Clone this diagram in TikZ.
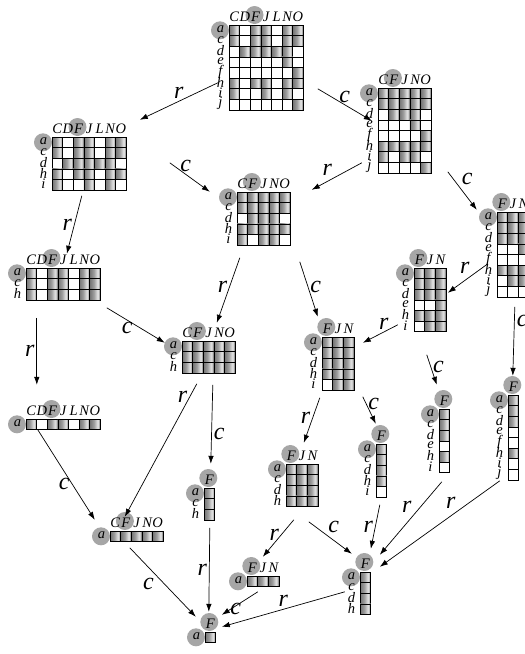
\documentclass[tikz,border=0pt]{standalone}
\usepackage{fontspec}
\setmainfont{Liberation Serif}
\usetikzlibrary{arrows.meta, calc, fit, positioning}

\pgfdeclarehorizontalshading{pipe}{100bp}{
  color(0bp)=(black!55); color(25bp)=(black!55); color(45bp)=(black!38);
  color(64bp)=(black!8); color(75bp)=(black!60); color(100bp)=(black!60)}

\def\cell{10.6}

% incidences of the context
\newcommand{\relate}[2]{\foreach \A in {#2}{\expandafter\gdef\csname ctx@#1@\A\endcsname{}}}
\relate{a}{C,F,J,N,O}
\relate{c}{C,F,J,N,O}
\relate{d}{D,F,J,L,N}
\relate{e}{N}
\relate{f}{O}
\relate{h}{C,F,J,N,O}
\relate{i}{C,J,N}
\relate{j}{O}
% highlighted object and attribute
\expandafter\def\csname mark@a\endcsname{}
\expandafter\def\csname mark@F\endcsname{}

\tikzset{
	cellon/.style={shading=pipe, draw=black, line width=0.6pt},
	celloff/.style={fill=white, draw=black, line width=0.6pt},
	halo/.style={fill=black!35},
	attr/.style={font=\fontsize{14.5}{14}\selectfont\itshape, inner sep=0pt},
	obj/.style={font=\fontsize{14.5}{14}\selectfont\itshape, inner sep=0pt},
	block/.style={inner sep=0pt, draw=none},
	link/.style={-{Latex[length=8pt,width=5.5pt]}, line width=0.7pt},
	tag/.style={font=\fontsize{24}{24}\selectfont\itshape, inner sep=2pt}
}

% #1 name, #2 top left corner, #3 attributes, #4 objects
\newcommand{\conceptgrid}[4]{%
  \coordinate (#1-tl) at (#2);
  % halos first, so that no label is hidden
  \foreach \A [count=\j] in {#3} {
    \ifcsname mark@\A\endcsname
      \fill[halo] ($(#1-tl)+(\j*\cell-0.5*\cell-1,-10)$) circle[radius=9];
    \fi
    \xdef\ncols{\j}
  }
  \fill[halo] ($(#1-tl)+(-9,0.5*\cell)$) circle[radius=9];
  \foreach \A [count=\j] in {#3}
    \node[attr] at ($(#1-tl)+(\j*\cell-0.5*\cell,-8.5)$) {\A};
  \foreach \o [count=\i] in {#4} {
    \node[obj] at ($(#1-tl)+(-8.5,\i*\cell-0.5*\cell-1)$) {\o};
    \foreach \A [count=\j] in {#3} {
      \ifcsname ctx@\o@\A\endcsname
        \shadedraw[cellon] ($(#1-tl)+(\j*\cell-\cell,\i*\cell-\cell)$) rectangle +(\cell,\cell);
      \else
        \filldraw[celloff] ($(#1-tl)+(\j*\cell-\cell,\i*\cell-\cell)$) rectangle +(\cell,\cell);
      \fi
    }
    \xdef\nrows{\i}
  }
  \coordinate (#1-br) at ($(#1-tl)+(\ncols*\cell,\nrows*\cell)$);
  \node[block, fit=(#1-tl)(#1-br)] (#1) {};
}

\begin{document}
\begin{tikzpicture}[x=1pt, y=-1pt]
\clip (0,0) rectangle (525,654);

\conceptgrid{n1}{229,25}{C,D,F,J,L,N,O}{a,c,d,e,f,h,i,j}
\conceptgrid{n2}{52,137}{C,D,F,J,L,N,O}{a,c,d,h,i}
\conceptgrid{n3}{378,88}{C,F,J,N,O}{a,c,d,e,f,h,i,j}
\conceptgrid{n4}{237,192}{C,F,J,N,O}{a,c,d,h,i}
\conceptgrid{n5}{497,212}{F,J,N}{a,c,d,e,f,h,i,j}
\conceptgrid{n6}{26,268}{C,D,F,J,L,N,O}{a,c,h}
\conceptgrid{n7}{414,268}{F,J,N}{a,c,d,e,h,i}
\conceptgrid{n8}{322,337}{F,J,N}{a,c,d,h,i}
\conceptgrid{n9}{182,341}{C,F,J,N,O}{a,c,h}
\conceptgrid{n10}{26,419}{C,D,F,J,L,N,O}{a}
\conceptgrid{n11}{508,395}{F}{a,c,d,e,f,h,i,j}
\conceptgrid{n12}{439,409}{F}{a,c,d,e,h,i}
\conceptgrid{n13}{376,444}{F}{a,c,d,h,i}
\conceptgrid{n14}{286,464}{F,J,N}{a,c,d,h}
\conceptgrid{n15}{204,488}{F}{a,c,h}
\conceptgrid{n16}{110,531}{C,F,J,N,O}{a}
\conceptgrid{n17}{247,576}{F,J,N}{a}
\conceptgrid{n18}{360,572}{F}{a,c,d,h}
\conceptgrid{n19}{205,632}{F}{a}

\draw[link] ([shift={(-11,58)}]n1.north west) -- node[tag, above]{r} ([shift={(88,-17)}]n2.north west);
\draw[link] ([shift={(89,64)}]n1.north west) -- node[tag, above]{c} ([shift={(-6,33)}]n3.north west);
\draw[link] ([shift={(118,26)}]n2.north west) -- node[tag, pos=0.4, above]{c} ([shift={(-27,0)}]n4.north west);
\draw[link] ([shift={(-16,75)}]n3.north west) -- node[tag, pos=0.55, above left]{r} ([shift={(75,-2)}]n4.north west);
\draw[link] ([shift={(70,84)}]n3.north west) -- node[tag, pos=0.4, above right]{c} ([shift={(-20,-2)}]n5.north west);
\draw[link] ([shift={(30,59)}]n2.north west) -- node[tag, left]{r} ([shift={(41,-14)}]n6.north west);
\draw[link] ([shift={(3,66)}]n4.north west) -- node[tag, pos=0.45, left]{r} ([shift={(35,-18)}]n9.north west);
\draw[link] ([shift={(63,70)}]n4.north west) -- node[tag, pos=0.45, right]{c} ([shift={(-4,-20)}]n8.north west);
\draw[link] ([shift={(-9,52)}]n5.north west) -- node[tag, pos=0.4, above left]{r} ([shift={(34,25)}]n7.north west);
\draw[link] ([shift={(-16,57)}]n7.north west) -- node[tag, pos=0.4, above]{r} ([shift={(41,6)}]n8.north west);
\draw[link] ([shift={(81,40)}]n6.north west) -- node[tag, pos=0.35, below]{c} ([shift={(-17,2)}]n9.north west);
\draw[link] ([shift={(11,50)}]n6.north west) -- node[tag, left]{r} ([shift={(11,-34)}]n10.north west);
\draw[link] ([shift={(15,43)}]n9.north west) -- node[tag, pos=0.1, left]{r} ([shift={(15,-14)}]n16.north west);
\draw[link] ([shift={(31,44)}]n9.north west) -- node[tag, pos=0.62, right]{c} ([shift={(7,-24)}]n15.north west);
\draw[link] ([shift={(-2,61)}]n8.north west) -- node[tag, pos=0.45, left]{r} ([shift={(18,-21)}]n14.north west);
\draw[link] ([shift={(41,60)}]n8.north west) -- node[tag, pos=0.25, right]{c} ([shift={(0,-20)}]n13.north west);
\draw[link] ([shift={(13,87)}]n7.north west) -- node[tag, pos=0.4, right]{c} ([shift={(-2,-24)}]n12.north west);
\draw[link] ([shift={(18,95)}]n5.north west) -- node[tag, pos=0.2, right]{c} ([shift={(5,-19)}]n11.north west);
\draw[link] ([shift={(12,11)}]n10.north west) -- node[tag, pos=0.6, left]{c} ([shift={(-15,-11)}]n16.north west);
\draw[link] ([shift={(8,56)}]n14.north west) -- node[tag, pos=0.4, left]{r} ([shift={(16,-19)}]n17.north west);
\draw[link] ([shift={(23,58)}]n14.north west) -- node[tag, pos=0.4, above right]{c} ([shift={(-8,-18)}]n18.north west);
\draw[link] ([shift={(4,61)}]n13.north west) -- node[tag, pos=0.5, left]{r} ([shift={(11,-23)}]n18.north west);
\draw[link] ([shift={(3,73)}]n12.north west) -- node[tag, pos=0.45, above left]{r} ([shift={(20,-17)}]n18.north west);
\draw[link] ([shift={(-8,86)}]n11.north west) -- node[tag, pos=0.35, above left]{r} ([shift={(20,-5)}]n18.north west);
\draw[link] ([shift={(6,40)}]n15.north west) -- node[tag, pos=0.5, left]{r} ([shift={(4,-20)}]n19.north west);
\draw[link] ([shift={(20,17)}]n16.north west) -- node[tag, pos=0.4, below left]{c} ([shift={(-9,-15)}]n19.north west);
\draw[link] ([shift={(11,16)}]n17.north west) -- node[tag, pos=0.4, below left]{c} ([shift={(17,-17)}]n19.north west);
\draw[link] ([shift={(-15,20)}]n18.north west) -- node[tag, pos=0.5, above]{r} ([shift={(17,-5)}]n19.north west);

\end{tikzpicture}
\end{document}
